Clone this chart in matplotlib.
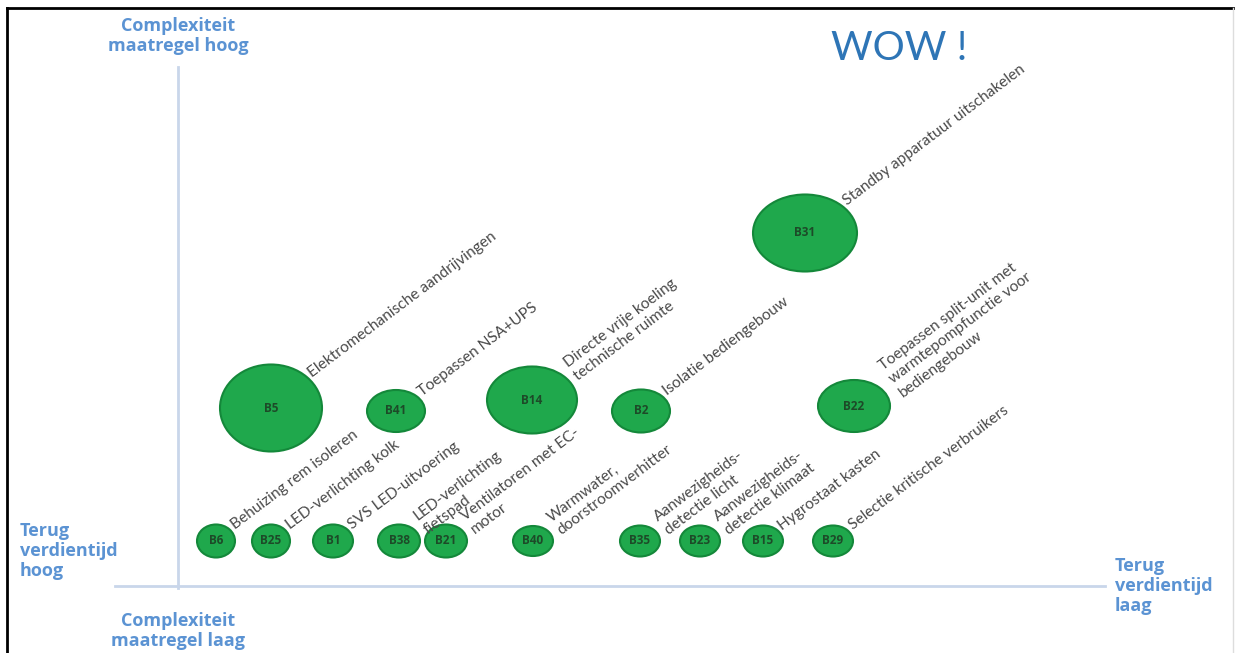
import matplotlib.pyplot as plt
from matplotlib.patches import Ellipse
import numpy as np

# ---- data (in the chart's own units) ----
codes = ['B5', 'B41', 'B14', 'B2', 'B31', 'B22',
         'B6', 'B25', 'B1', 'B38', 'B21', 'B40', 'B35', 'B23', 'B15', 'B29']
# horizontal position: terugverdientijd (left = hoog, right = laag)
payback = [271, 396, 532, 641, 805, 854,
           216, 271, 333, 399, 446, 533, 640, 700, 763, 833]
# vertical position: complexiteit (up = hoog)
complexity = [408, 411, 400, 411, 233, 406,
              541, 541, 541, 541, 541, 541, 541, 541, 541, 541]
# bubble size (width, height)
size_w = [102, 58, 90, 58, 104, 72,
          38, 38, 40, 42, 42, 40, 40, 40, 40, 40]
size_h = [87, 42, 67, 43, 77, 52,
          33, 33, 33, 33, 33, 30, 31, 31, 31, 31]
labels = ['Elektromechanische aandrijvingen',
          'Toepassen NSA+UPS',
          'Directe vrije koeling\ntechnische ruimte',
          'Isolatie bediengebouw',
          'Standby apparatuur uitschakelen',
          'Toepassen split-unit met\nwarmtepompfunctie voor\nbediengebouw',
          'Behuizing rem isoleren',
          'LED-verlichting kolk',
          'SVS LED-uitvoering',
          'LED-verlichting\nfietspad',
          'Ventilatoren met EC-\nmotor',
          'Warmwater,\ndoorstroomverhitter',
          'Aanwezigheids-\ndetectie licht',
          'Aanwezigheids-\ndetectie klimaat',
          'Hygrostaat kasten',
          'Selectie kritische verbruikers']

blue = '#5b93d3'
axis_col = '#c9d6ea'
plt.rcParams['font.family'] = ['Lato', 'DejaVu Sans']

fig = plt.figure(figsize=(12.35, 6.53), dpi=100)
ax = fig.add_axes([0, 0, 1, 1])
ax.set_xlim(0, 1235)
ax.set_ylim(653, 0)
ax.axis('off')

# frame of the slide
ax.plot([7, 7], [653, 8], color='black', lw=2)
ax.plot([7, 1233], [8, 8], color='black', lw=2)
ax.plot([1233, 1233], [8, 653], color='#dddddd', lw=1)

# quadrant axes
ax.plot([178, 178], [67, 588], color=axis_col, lw=2)
ax.plot([115, 1105], [586, 586], color=axis_col, lw=2)

# bubbles
for i in range(len(codes)):
    e = Ellipse((payback[i], complexity[i]), size_w[i], size_h[i],
                facecolor='#1fa84c', edgecolor='#14883a', lw=1.5, zorder=3)
    ax.add_patch(e)
    ax.text(payback[i], complexity[i], codes[i], ha='center', va='center',
            fontsize=8.5, fontweight='bold', color='#1d4a28', zorder=4,
            family=['Open Sans', 'DejaVu Sans'])
    # label centred on the upper right edge of the bubble,
    # multi-line labels pushed out a bit more so the lower lines stay clear
    extra = 4 * labels[i].count('\n')
    lx = payback[i] + size_w[i] / 2 * np.cos(np.radians(45)) + 3 + extra
    ly = complexity[i] - size_h[i] / 2 * np.sin(np.radians(45)) - 3 - extra / 2
    ax.text(lx, ly, labels[i], rotation=37, rotation_mode='anchor',
            ha='left', va='center', fontsize=11.2, color='#4a4a4a',
            linespacing=1.25, zorder=4)

# axis texts
axfont = dict(fontsize=13, fontweight='bold', color=blue, linespacing=1.15,
              family=['Open Sans', 'DejaVu Sans'])
ax.text(178, 36, 'Complexiteit\nmaatregel hoog', ha='center', va='center', **axfont)
ax.text(178, 631, 'Complexiteit\nmaatregel laag', ha='center', va='center', **axfont)
ax.text(20, 551, 'Terug\nverdientijd\nhoog', ha='left', va='center', **axfont)
ax.text(1115, 586, 'Terug\nverdientijd\nlaag', ha='left', va='center', **axfont)
ax.text(899, 49, 'WOW !', ha='center', va='center',
        fontsize=29, fontweight='normal', color='#2e75b6')

fig.savefig('out.png', dpi=100)
